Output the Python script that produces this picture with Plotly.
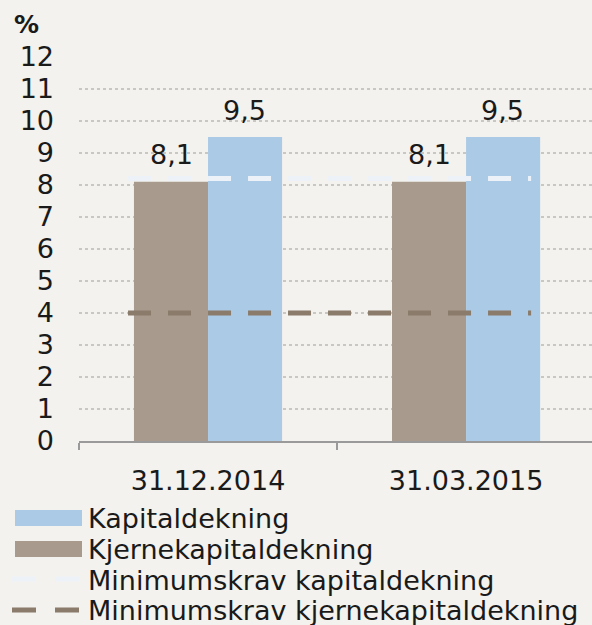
import plotly.graph_objects as go

datoer = ["31.12.2014", "31.03.2015"]
kapitaldekning = [9.5, 9.5]
kjernekapitaldekning = [8.1, 8.1]
krav_kapital = [8.2, 8.2]
krav_kjerne = [4.0, 4.0]

font_name = "DejaVu Sans"
txt = "#1a1a1a"
blaa = "#abcae6"
brun = "#a89b8e"
brun_strek = "#8a7b6a"
hvit_strek = "#edf2f8"
bg = "#f3f2ee"
fs = 27

W, H = 592, 625
L, T, B = 79, 57, 184
pw, ph = W - L, H - T - B


def px(x):
    return (x - L) / pw


def py(y):
    return (H - B - y) / ph


fig = go.Figure()

fig.add_trace(go.Bar(x=datoer, y=kjernekapitaldekning, marker_color=brun,
                     marker_line_width=0, xaxis="x", yaxis="y", showlegend=False))
fig.add_trace(go.Bar(x=datoer, y=kapitaldekning, marker_color=blaa,
                     marker_line_width=0, xaxis="x", yaxis="y", showlegend=False))

# min-krav lines go on an invisible numeric overlay axis so they sit above the bars
line_x = [-0.31, 1.252]
dash = "23px,17px"
fig.add_trace(go.Scatter(x=line_x, y=[krav_kapital[0], krav_kapital[-1]], mode="lines",
                         line=dict(color=hvit_strek, width=5, dash=dash),
                         xaxis="x2", yaxis="y", showlegend=False, hoverinfo="skip"))
fig.add_trace(go.Scatter(x=line_x, y=[krav_kjerne[0], krav_kjerne[-1]], mode="lines",
                         line=dict(color=brun_strek, width=5, dash=dash),
                         xaxis="x2", yaxis="y", showlegend=False, hoverinfo="skip"))

annots = []
for i, d in enumerate(datoer):
    for v, off in ((kjernekapitaldekning[i], -0.143), (kapitaldekning[i], 0.143)):
        annots.append(dict(x=i + off, y=v, xref="x2", yref="y", text=f"{v:.1f}".replace(".", ","),
                           showarrow=False, yshift=27, font=dict(size=fs, color=txt)))

annots.append(dict(x=px(12), y=py(24), xref="paper", yref="paper", text="<b>%</b>",
                   showarrow=False, xanchor="left", yanchor="middle",
                   font=dict(size=25, color=txt)))

# manual legend (wide swatches like the original)
leg = [("Kapitaldekning", 518), ("Kjernekapitaldekning", 549),
       ("Minimumskrav kapitaldekning", 580), ("Minimumskrav kjernekapitaldekning", 610)]
for name, yc in leg:
    annots.append(dict(x=px(86), y=py(yc), xref="paper", yref="paper", text=name,
                       showarrow=False, xanchor="left", yanchor="middle",
                       font=dict(size=fs, color=txt)))

shapes = [
    dict(type="rect", xref="paper", yref="paper", x0=px(15), x1=px(82), y0=py(510), y1=py(526),
         fillcolor=blaa, line_width=0),
    dict(type="rect", xref="paper", yref="paper", x0=px(15), x1=px(82), y0=py(541), y1=py(557),
         fillcolor=brun, line_width=0),
    dict(type="line", xref="paper", yref="paper", x0=px(12), x1=px(79), y0=py(579), y1=py(579),
         line=dict(color=hvit_strek, width=5, dash="24px,19px")),
    dict(type="line", xref="paper", yref="paper", x0=px(12), x1=px(79), y0=py(610), y1=py(610),
         line=dict(color=brun_strek, width=5, dash="24px,19px")),
]

fig.update_layout(
    width=W, height=H,
    margin=dict(l=L, r=0, t=T, b=B),
    paper_bgcolor=bg, plot_bgcolor=bg,
    font=dict(family=font_name, size=fs, color=txt),
    barmode="group", bargap=0.426, bargroupgap=0,
    showlegend=False,
    xaxis=dict(type="category", range=[-0.5, 1.488], tickson="boundaries", ticks="outside",
               ticklen=7, tickwidth=1.5, tickcolor="#9a9a9a",
               showgrid=False, zeroline=False, showline=True, linecolor="#9a9a9a", linewidth=2,
               ticklabelstandoff=15, tickfont=dict(size=fs)),
    xaxis2=dict(overlaying="x", anchor="y", range=[-0.5, 1.488], visible=False),
    yaxis=dict(range=[0, 12], dtick=1, tick0=0, showgrid=True, gridcolor="#c9c7c2",
               griddash="dot", gridwidth=1.5, zeroline=False, ticks="", showline=False,
               ticklabelstandoff=24, tickfont=dict(size=fs)),
    annotations=annots,
    shapes=shapes,
)

# page body has a default 8px margin, drop it so the figure fills the window
fig.write_html("out.html", config={"displayModeBar": False},
               post_script="document.body.style.margin='0';")
